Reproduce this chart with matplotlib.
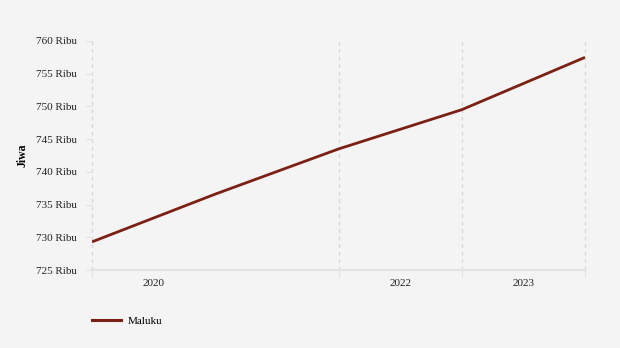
import matplotlib
matplotlib.use("Agg")
import matplotlib.pyplot as plt
from matplotlib.lines import Line2D

# population of Maluku, thousands of people
years = ["2019", "2020", "2021", "2022", "2023"]
population = [729.3, 736.6, 743.5, 749.5, 757.5]

tick_pos = [0, 2, 3, 4]
label_pos = [0.5, 2.5, 3.5]
label_text = ["2020", "2022", "2023"]
yticks = [725, 730, 735, 740, 745, 750, 755, 760]

BG = "#f4f4f4"
LINE = "#7b2013"
GRID = "#d6d6d6"

plt.rcParams["font.family"] = ["Liberation Serif", "DejaVu Serif"]

fig = plt.figure(figsize=(6.2, 3.48), dpi=100, facecolor=BG)
ax = fig.add_axes([92 / 620, 1 - 270 / 348, (585 - 92) / 620, (270 - 41) / 348])
ax.set_facecolor(BG)

x = list(range(len(years)))
ax.plot(x, population, color=LINE, lw=2.0, solid_capstyle="butt", zorder=3)

ax.set_xlim(0, 4)
ax.set_ylim(725, 760)
ax.set_yticks(yticks)
ax.set_yticklabels([f"{v} Ribu" for v in yticks], fontsize=8, color="#222222")
ax.tick_params(axis="y", length=4, width=0.8, color="#e2e2e2", pad=7)

# year boundaries as dashed verticals, labels centred in between
for p in tick_pos:
    ax.axvline(p, color=GRID, lw=0.9, ls=(0, (3, 3)), zorder=1, clip_on=False)
ax.set_xticks(tick_pos)
ax.set_xticklabels([])
ax.tick_params(axis="x", length=5, width=0.9, color="#e2e2e2")
for p, t in zip(label_pos, label_text):
    ax.text(p, -0.038, t, transform=ax.get_xaxis_transform(), ha="center", va="top",
            fontsize=8, color="#222222")

for s in ["top", "right", "left"]:
    ax.spines[s].set_visible(False)
ax.spines["bottom"].set_color("#e2e2e2")
ax.spines["bottom"].set_linewidth(1.5)

ax.set_ylabel("Jiwa", fontsize=8.5, fontweight="bold")
ax.yaxis.set_label_coords(-0.128, 0.5)

handle = Line2D([], [], color=LINE, lw=2.2)
fig.legend([handle], ["Maluku"], loc="center left", bbox_to_anchor=(0.132, 1 - 321 / 348),
           frameon=False, fontsize=8, handlelength=2.6, handletextpad=0.6)

fig.savefig("out.png", dpi=100, facecolor=BG)
